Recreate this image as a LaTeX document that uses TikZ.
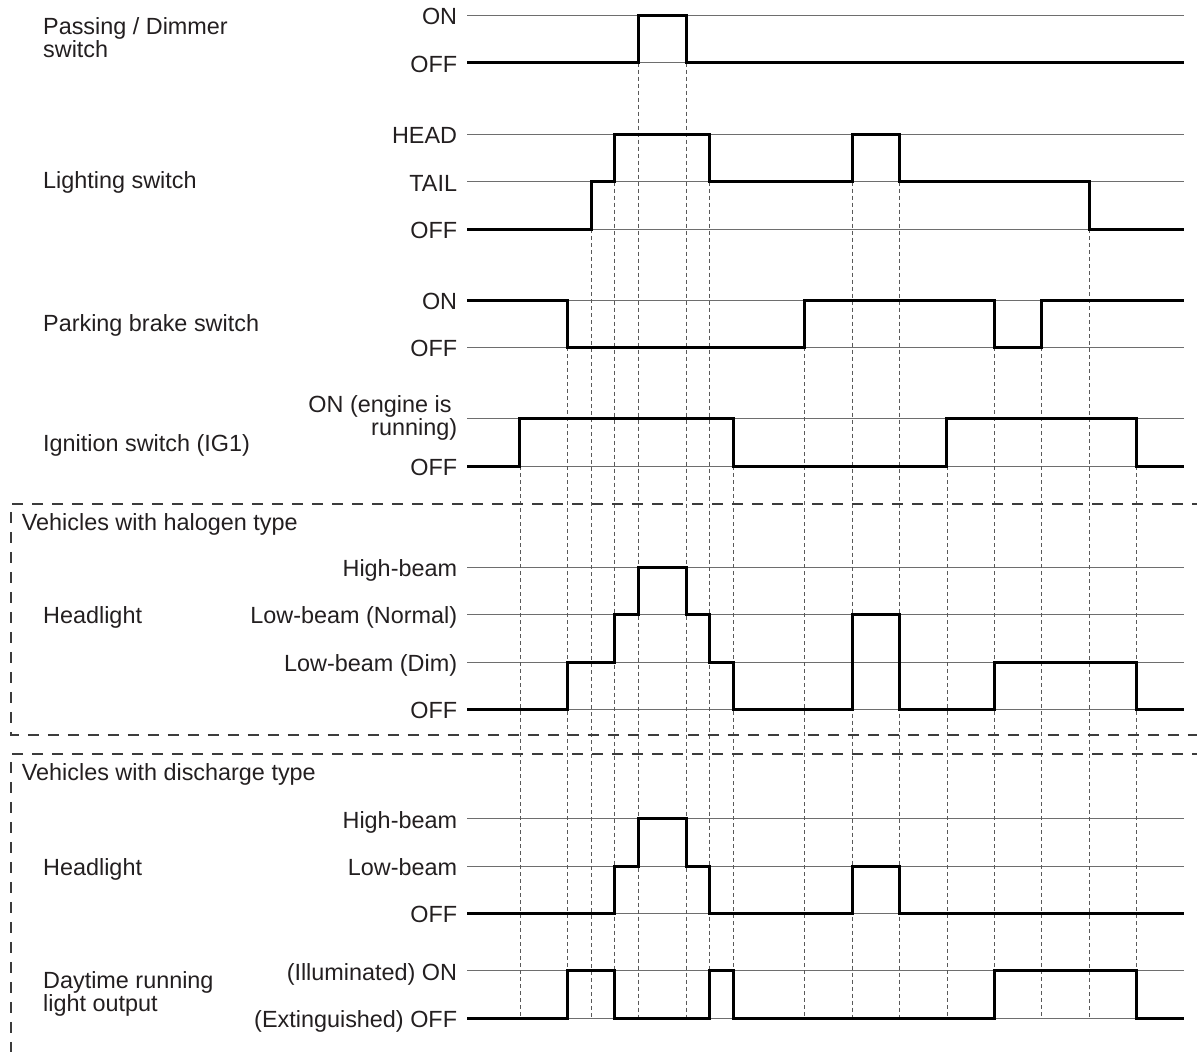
\documentclass[tikz,border=0pt]{standalone}
\usepackage{fontspec}
\setmainfont{Liberation Sans}
\usepackage{xcolor}
\definecolor{textgray}{RGB}{35,31,32}
\definecolor{levelgray}{RGB}{110,110,110}
\definecolor{boxgray}{RGB}{60,60,60}
\usetikzlibrary{positioning}

\begin{document}
\begin{tikzpicture}[
    x=23.72pt, y=-1pt,
    font=\fontsize{23.4}{21}\selectfont,
    every node/.style={inner sep=0pt, text=textgray},
    sig/.style={line width=3pt, black, line join=miter},
    level/.style={levelgray, line width=1pt},
    guide/.style={black!65, line width=0.8pt, dash pattern=on 4pt off 3pt},
    group/.style={boxgray, line width=2pt, dash pattern=on 11pt off 9pt},
    lvl/.style={anchor=base east, align=right},
    signame/.style={anchor=base west, align=left}
]
\useasboundingbox (-21.922,0) rectangle (28.541,1051);
\clip (-21.922,0) rectangle (28.541,1051);

% Level lines
\foreach \y in {15.3,62.7,134,181.7,229,300,347.3,418.7,466,567,614.3,662,709.3,818.7,866,913.3,970.7,1018.3}
    \draw[level] (-2.23,\y) -- (28,\y);

% Guide lines from each change down to the last row
\foreach \t/\y in {0/466,2/347.3,3/229,4/181.7,5/62.7,7/62.7,8/181.7,9/466,12/347.3,14/181.7,16/181.7,18/466,20/347.3,22/347.3,24/229,26/466}
    \draw[guide] (\t,\y) -- (\t,1018.3);

% Vehicle type boxes
\draw[group] (28.8,504) -| (-21.46,735) -- (28.8,735);
\draw[group] (28.8,754) -| (-21.46,1070);

% Signals
\draw[sig] (-2.23,62.7) -| (5,15.3) -| (7,62.7) -- (28,62.7);
\draw[sig] (-2.23,229) -| (3,181.7) -| (4,134) -| (8,181.7) -| (14,134) -| (16,181.7) -| (24,229) -- (28,229);
\draw[sig] (-2.23,300) -| (2,347.3) -| (12,300) -| (20,347.3) -| (22,300) -- (28,300);
\draw[sig] (-2.23,466) -| (0,418.7) -| (9,466) -| (18,418.7) -| (26,466) -- (28,466);
\draw[sig] (-2.23,709.3) -| (2,662) -| (4,614.3) -| (5,567) -| (7,614.3) -| (8,662) -| (9,709.3) -| (14,614.3) -| (16,709.3) -| (20,662) -| (26,709.3) -- (28,709.3);
\draw[sig] (-2.23,913.3) -| (4,866) -| (5,818.7) -| (7,866) -| (8,913.3) -| (14,866) -| (16,913.3) -- (28,913.3);
\draw[sig] (-2.23,1018.3) -| (2,970.7) -| (4,1018.3) -| (8,970.7) -| (9,1018.3) -| (20,970.7) -| (26,1018.3) -- (28,1018.3);

% Level labels
\foreach \y/\txt [count=\i] in {15.3/ON, 62.7/OFF, 134/HEAD, 181.7/TAIL, 229/OFF, 300/ON, 347.3/OFF, 466/OFF,
    567/High-beam, 614.3/{Low-beam (Normal)}, 662/{Low-beam (Dim)}, 709.3/OFF,
    818.7/High-beam, 866/Low-beam, 913.3/OFF, 970.7/{(Illuminated) ON}, 1018.3/{(Extinguished) OFF}}
    \node[lvl] (lv\i) at (-2.643,\y+9.5) {\txt};
\node[lvl, font=\fontsize{23.4}{19.5}\selectfont] (ignon) at (-2.643,435) {ON (engine is\hspace*{5.6pt}\\running)};

% Signal names
\node[signame] (pass) at (-20.11,57.3) {Passing / Dimmer\\switch};
\node[signame] (light) at (-20.11,188) {Lighting switch};
\node[signame] (park) at (-20.11,331.7) {Parking brake switch};
\node[signame] (ign) at (-20.11,451) {Ignition switch (IG1)};
\node[signame] (halo) at (-21.01,530) {Vehicles with halogen type};
\node[signame] (halohead) at (-20.11,623) {Headlight};
\node[signame] (disc) at (-21.01,780.7) {Vehicles with discharge type};
\node[signame] (dischead) at (-20.11,875) {Headlight};
\node[signame] (drl) at (-20.11,1011.7) {Daytime running\\light output};
\end{tikzpicture}
\end{document}
